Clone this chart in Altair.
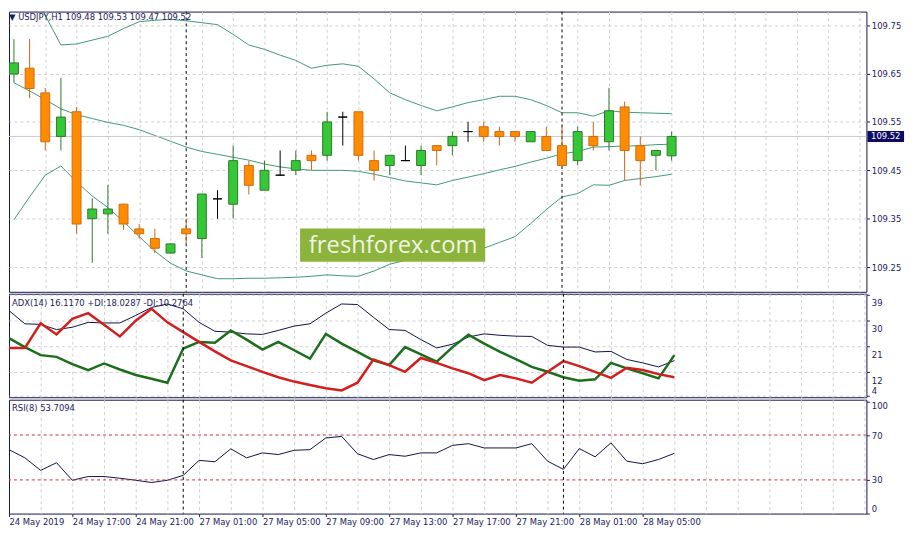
import json
import altair as alt
import pandas as pd

# ---------------- data ----------------
bar_idx = list(range(43))
opens = [109.649, 109.661, 109.610, 109.520, 109.571, 109.350, 109.360, 109.380, 109.329, 109.309,
         109.279, 109.329, 109.309, 109.391, 109.380, 109.460, 109.409, 109.440, 109.450, 109.481,
         109.481, 109.560, 109.571, 109.470, 109.460, 109.470, 109.460, 109.501, 109.501, 109.530,
         109.540, 109.530, 109.530, 109.509, 109.520, 109.501, 109.470, 109.520, 109.509, 109.581,
         109.501, 109.481, 109.480]
highs = [109.721, 109.721, 109.620, 109.641, 109.581, 109.392, 109.420, 109.381, 109.339, 109.329,
         109.299, 109.350, 109.401, 109.409, 109.501, 109.470, 109.470, 109.491, 109.491, 109.491,
         109.571, 109.571, 109.571, 109.491, 109.481, 109.501, 109.501, 109.501, 109.530, 109.550,
         109.550, 109.540, 109.530, 109.530, 109.540, 109.540, 109.540, 109.550, 109.620, 109.592,
         109.520, 109.491, 109.530]
lows = [109.631, 109.599, 109.491, 109.491, 109.319, 109.259, 109.319, 109.327, 109.309, 109.279,
        109.278, 109.298, 109.269, 109.350, 109.350, 109.400, 109.409, 109.439, 109.440, 109.450,
        109.470, 109.501, 109.470, 109.429, 109.440, 109.469, 109.440, 109.460, 109.481, 109.509,
        109.509, 109.501, 109.509, 109.509, 109.491, 109.460, 109.460, 109.491, 109.491, 109.429,
        109.419, 109.450, 109.470]
closes = [109.672, 109.619, 109.509, 109.560, 109.339, 109.370, 109.370, 109.339, 109.319, 109.289,
          109.298, 109.319, 109.401, 109.391, 109.470, 109.419, 109.450, 109.440, 109.470, 109.470,
          109.550, 109.560, 109.481, 109.450, 109.481, 109.470, 109.491, 109.491, 109.520, 109.530,
          109.520, 109.520, 109.520, 109.530, 109.491, 109.460, 109.530, 109.501, 109.573, 109.491,
          109.470, 109.491, 109.520]
bb_upper = [109.897, 109.835, 109.770, 109.709, 109.711, 109.719, 109.727, 109.743, 109.757, 109.760,
            109.762, 109.759, 109.755, 109.751, 109.731, 109.709, 109.700, 109.688, 109.677, 109.661,
            109.667, 109.670, 109.665, 109.639, 109.610, 109.596, 109.584, 109.573, 109.581, 109.590,
            109.596, 109.603, 109.603, 109.596, 109.584, 109.569, 109.569, 109.562, 109.573, 109.570,
            109.569, 109.568, 109.567]
bb_middle = [109.631, 109.614, 109.596, 109.577, 109.565, 109.557, 109.549, 109.543, 109.534, 109.522,
             109.510, 109.498, 109.489, 109.483, 109.477, 109.471, 109.463, 109.457, 109.453, 109.450,
             109.450, 109.450, 109.448, 109.442, 109.435, 109.428, 109.424, 109.420, 109.429, 109.436,
             109.443, 109.451, 109.458, 109.467, 109.475, 109.484, 109.489, 109.498, 109.499, 109.500,
             109.501, 109.503, 109.504]
bb_lower = [109.348, 109.395, 109.440, 109.459, 109.426, 109.397, 109.373, 109.344, 109.313, 109.283,
            109.258, 109.242, 109.234, 109.226, 109.226, 109.227, 109.227, 109.228, 109.229, 109.231,
            109.234, 109.232, 109.231, 109.242, 109.256, 109.264, 109.268, 109.274, 109.279, 109.283,
            109.289, 109.301, 109.313, 109.340, 109.369, 109.395, 109.402, 109.420, 109.419, 109.429,
            109.433, 109.437, 109.442]
adx = [33.5, 28.9, 28.7, 26.9, 27.7, 29.4, 29.2, 29.2, 31.8, 34.6,
       35.8, 34.1, 29.4, 26.3, 26.0, 25.4, 25.2, 26.6, 28.1, 28.9,
       32.6, 35.8, 35.6, 31.2, 26.9, 26.6, 23.4, 20.5, 21.8, 24.3,
       25.4, 24.9, 24.6, 24.5, 21.4, 20.8, 20.8, 19.1, 19.3, 16.5,
       15.3, 13.9, 16.1]
plus_di = [23.9, 20.8, 18.0, 17.4, 14.9, 12.8, 15.1, 13.0, 11.1, 9.8,
           8.4, 20.3, 22.6, 22.3, 26.6, 23.4, 19.9, 22.6, 19.7, 16.8,
           25.4, 22.0, 19.1, 16.2, 14.5, 20.8, 18.3, 15.7, 20.8, 25.1,
           22.0, 19.1, 16.6, 13.9, 12.2, 10.3, 9.1, 9.6, 15.3, 13.4,
           11.7, 9.9, 18.0]
minus_di = [20.5, 20.5, 29.1, 25.2, 30.6, 32.6, 28.6, 24.5, 30.0, 34.1,
            29.4, 26.0, 22.6, 19.3, 16.2, 14.2, 12.2, 10.3, 8.8, 7.6,
            6.5, 5.7, 8.4, 16.5, 14.5, 12.2, 17.0, 15.3, 13.4, 11.7,
            9.3, 11.1, 9.9, 8.4, 12.2, 15.9, 14.2, 12.2, 10.1, 13.6,
            12.8, 11.4, 10.3]
rsi = [57.0, 49.7, 38.5, 45.3, 29.7, 33.0, 33.0, 31.5, 29.7, 27.7,
       29.7, 34.1, 47.4, 46.2, 57.7, 49.7, 54.1, 52.6, 56.4, 57.0,
       67.4, 68.8, 53.3, 48.2, 52.6, 51.1, 54.1, 54.1, 60.8, 62.3,
       58.5, 58.5, 58.5, 62.3, 46.7, 39.4, 57.9, 50.6, 63.0, 46.7,
       44.4, 48.2, 53.7]

tick_idx = [0, 4, 8, 12, 16, 20, 24, 28, 32, 36, 40]
tick_labels = ["24 May 2019", "24 May 17:00", "24 May 21:00", "27 May 01:00", "27 May 05:00",
               "27 May 09:00", "27 May 13:00", "27 May 17:00", "27 May 21:00", "28 May 01:00",
               "28 May 05:00"]
grid_idx = list(range(0, 56, 2))
separator_idx = [11, 35]
price_ticks = [109.25, 109.35, 109.45, 109.55, 109.65, 109.75]
adx_ticks = [4, 12, 21, 30, 39]
rsi_ticks = [0, 30, 70, 100]
rsi_levels = [30, 70]
last_price = [109.52]
main_title = "\u25bc  USDJPY,H1  109.48 109.53 109.47 109.52"
adx_title = "ADX(14) 16.1170 +DI:18.0287 -DI:10.2764"
rsi_title = "RSI(8) 53.7094"
watermark = "freshforex.com"

# ---------------- styling ----------------
FONT = "DejaVu Sans"
FS = 8.5
NAVY = "#1b1b5e"
BORDER = "#14144e"
BAND = "#3f9a74"
W = 866

df = pd.DataFrame({
    "idx": bar_idx, "open": opens, "high": highs, "low": lows, "close": closes,
    "upper": bb_upper, "middle": bb_middle, "lower": bb_lower,
    "adx": adx, "pdi": plus_di, "mdi": minus_di, "rsi": rsi,
})
sep_df = pd.DataFrame({"idx": separator_idx})
lvl_df = pd.DataFrame({"level": rsi_levels})
price_df = pd.DataFrame({"price": last_price, "label": ["%.2f" % p for p in last_price]})

xscale = alt.Scale(domain=[0, W / 16], nice=False, zero=False)
grid_op = {"condition": {"test": "datum.value == 0", "value": 0}, "value": 1}
x_grid_axis = alt.Axis(values=grid_idx, grid=True, gridOpacity=grid_op, labels=False, ticks=False,
                       domain=False, title=None)

tick_test = "indexof(%s, datum.value) >= 0" % json.dumps(tick_idx)
label_expr = "indexof(%s, datum.value) >= 0 ? %s[indexof(%s, datum.value)] : ''" % (
    json.dumps(tick_idx), json.dumps(tick_labels), json.dumps(tick_idx))
x_label_axis = alt.Axis(values=grid_idx, grid=True, gridOpacity=grid_op, labelExpr=label_expr,
                        labelAlign="left", labelBaseline="top", labelPadding=1, labelOverlap=False,
                        labelFlush=False, tickSize=3, tickColor=NAVY,
                        tickOpacity={"condition": {"test": tick_test, "value": 1}, "value": 0},
                        domain=False, title=None)

# ---------------- main price panel ----------------
pscale = alt.Scale(domain=[109.199, 109.778], nice=False, zero=False)
p_axis = alt.Axis(values=price_ticks, format=".2f", orient="right", grid=True, title=None,
                  tickSize=3, tickColor=NAVY, labelPadding=2, domain=False)
XM = lambda f="idx:Q": alt.X(f, scale=xscale, axis=x_grid_axis)
YP = lambda f: alt.Y(f, scale=pscale, axis=p_axis)

base = alt.Chart(df)

band_up = base.mark_line(color=BAND, strokeWidth=1, clip=True).encode(x=XM(), y=YP("upper:Q"))
band_mid = base.mark_line(color=BAND, strokeWidth=1, clip=True).encode(x=XM(), y=YP("middle:Q"))
band_low = base.mark_line(color=BAND, strokeWidth=1, clip=True).encode(x=XM(), y=YP("lower:Q"))

price_line = alt.Chart(price_df).mark_rule(color="#c8c8c8", strokeWidth=1).encode(y=YP("price:Q"))


def separators(xenc):
    return alt.Chart(sep_df).mark_rule(color="black", strokeDash=[3, 3], strokeWidth=1).encode(x=xenc)


kind_calc = "datum.close > datum.open ? 'up' : (datum.close < datum.open ? 'down' : 'doji')"
kinds = ["up", "down", "doji"]

wicks = base.transform_calculate(kind=kind_calc).mark_rule(strokeWidth=1, clip=True).encode(
    x=XM(),
    y=YP("low:Q"),
    y2="high:Q",
    color=alt.Color("kind:N", scale=alt.Scale(domain=kinds, range=["#2d7a2d", "#c8641c", "#000000"]),
                    legend=None))
bodies = base.transform_calculate(kind=kind_calc).mark_bar(size=9, strokeWidth=1, clip=True).encode(
    x=XM(),
    y=YP("open:Q"),
    y2="close:Q",
    fill=alt.Fill("kind:N", scale=alt.Scale(domain=kinds, range=["#35c735", "#ff8c00", "#000000"]),
                  legend=None),
    stroke=alt.Stroke("kind:N", scale=alt.Scale(domain=kinds, range=["#2d7a2d", "#d06a10", "#000000"]),
                      legend=None))

title_txt = alt.Chart(pd.DataFrame({"t": [main_title]})).mark_text(
    align="left", baseline="middle", font=FONT, fontSize=FS, color=NAVY).encode(
    x=alt.value(0), y=alt.value(5), text="t:N")

wm_df = pd.DataFrame({"t": [watermark]})
wm_box = alt.Chart(wm_df).mark_rect(color="#8cb33c").encode(
    x=alt.value(294), x2=alt.value(481), y=alt.value(219), y2=alt.value(252.7))
wm_txt = alt.Chart(wm_df).mark_text(font="Open Sans", fontSize=24, color="#eef5e2",
                                    align="center", baseline="alphabetic").encode(
    x=alt.value(388), y=alt.value(244), text="t:N")

box_shape = "M-1,-0.3L1,-0.3L1,0.3L-1,0.3Z"
price_box = alt.Chart(price_df).mark_point(shape=box_shape, filled=True, opacity=1,
                                           color="#0c0c64", size=37 * 37).encode(
    x=alt.value(885.5), y=YP("price:Q"))
price_txt = alt.Chart(price_df).mark_text(font=FONT, fontSize=FS, color="white",
                                          align="center", baseline="middle").encode(
    x=alt.value(885.5), y=YP("price:Q"), text="label:N")

main = alt.layer(band_up, band_mid, band_low, price_line, separators(XM()), wicks, bodies,
                 wm_box, wm_txt, title_txt, price_box, price_txt).properties(width=W, height=283)

# ---------------- ADX panel ----------------
ascale = alt.Scale(domain=[3.35, 39.35], nice=False, zero=False)
a_axis = alt.Axis(values=adx_ticks, orient="right", grid=True, title=None, tickSize=3,
                  tickColor=NAVY, labelPadding=2, domain=False,
                  labelBaseline={"condition": {"test": "datum.value == 4", "value": "bottom"},
                                 "value": "top"},
                  labelOffset={"condition": {"test": "datum.value == 4", "value": 0}, "value": 4})
YA = lambda f: alt.Y(f, scale=ascale, axis=a_axis)

adx_line = base.mark_line(color="#10104a", strokeWidth=1, clip=True).encode(x=XM(), y=YA("adx:Q"))
pdi_line = base.mark_line(color="#1c6e1c", strokeWidth=2.5, clip=True).encode(x=XM(), y=YA("pdi:Q"))
mdi_line = base.mark_line(color="#d41e1e", strokeWidth=2.5, clip=True).encode(x=XM(), y=YA("mdi:Q"))
adx_txt = alt.Chart(pd.DataFrame({"t": [adx_title]})).mark_text(
    align="left", baseline="middle", font=FONT, fontSize=FS, color=NAVY).encode(
    x=alt.value(3), y=alt.value(9), text="t:N")
adxp = alt.layer(adx_line, pdi_line, mdi_line, separators(XM()), adx_txt).properties(width=W, height=104.5)

# ---------------- RSI panel ----------------
rscale = alt.Scale(domain=[0, 101.5], nice=False, zero=False)
r_axis = alt.Axis(values=rsi_ticks, orient="right", grid=False, title=None, tickSize=3,
                  tickColor=NAVY, labelPadding=2, domain=False,
                  labelBaseline={"condition": {"test": "datum.value == 100", "value": "top"},
                                 "value": "middle"},
                  labelOffset={"condition": {"test": "datum.value == 0", "value": -5}, "value": 0})
XR = lambda: alt.X("idx:Q", scale=xscale, axis=x_label_axis)
YR = lambda f: alt.Y(f, scale=rscale, axis=r_axis)

rsi_line = base.mark_line(color="#10104a", strokeWidth=1, clip=True).encode(x=XR(), y=YR("rsi:Q"))
levels = alt.Chart(lvl_df).mark_rule(color="#c83232", strokeDash=[3, 3], strokeWidth=1).encode(
    y=YR("level:Q"))
rsi_txt = alt.Chart(pd.DataFrame({"t": [rsi_title]})).mark_text(
    align="left", baseline="middle", font=FONT, fontSize=FS, color=NAVY).encode(
    x=alt.value(3), y=alt.value(8.5), text="t:N")
rsip = alt.layer(rsi_line, levels, separators(XR()), rsi_txt).properties(width=W, height=115)

chart = alt.vconcat(main, adxp, rsip, spacing=2, bounds="flush").properties(
    padding={"left": 0, "top": 0, "right": 4, "bottom": 4}
).configure_view(stroke=BORDER, strokeWidth=1).configure_axis(
    labelFont=FONT, labelFontSize=FS, labelColor=NAVY,
    gridColor="#cfcfcf", gridDash=[3, 3], gridWidth=1)

chart.save("out.html", embed_options={"renderer": "svg", "actions": False})
